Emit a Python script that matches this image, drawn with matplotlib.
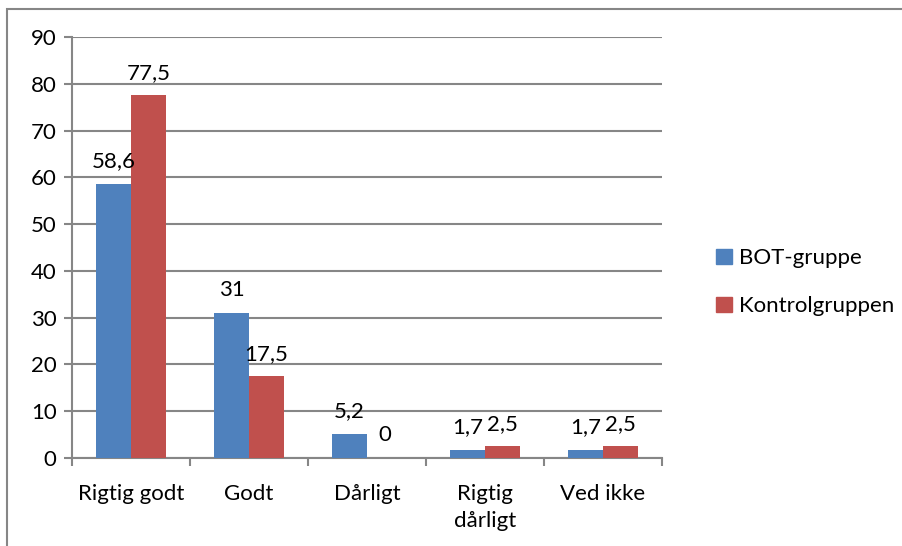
import matplotlib.pyplot as plt
import numpy as np
from matplotlib.patches import Rectangle, Patch

plt.rcParams['font.family'] = ['Lato', 'DejaVu Sans']

categories = ["Rigtig godt", "Godt", "Dårligt", "Rigtig\ndårligt", "Ved ikke"]
bot_gruppe = [58.6, 31, 5.2, 1.7, 1.7]
kontrolgruppen = [77.5, 17.5, 0, 2.5, 2.5]
bot_labels = ["58,6", "31", "5,2", "1,7", "1,7"]
kontrol_labels = ["77,5", "17,5", "0", "2,5", "2,5"]

blue = "#4F81BD"
red = "#C0504D"
grid = "#868686"
fs = 16

fig = plt.figure(figsize=(9.02, 5.46), dpi=100)
ax = fig.add_axes([0.0798, 0.1612, 0.6542, 0.771])

# outer chart frame
fig.patches.append(Rectangle((7 / 902, -0.1), 1.2, 1 - 9 / 546 + 0.1,
                             transform=fig.transFigure, fill=False,
                             edgecolor=grid, linewidth=1.5))

x = np.arange(len(categories))
w = 0.297
b1 = ax.bar(x - w / 2, bot_gruppe, w, color=blue, zorder=3)
b2 = ax.bar(x + w / 2, kontrolgruppen, w, color=red, zorder=3)

for rect, lab in zip(b1, bot_labels):
    ax.annotate(lab, (rect.get_x() + rect.get_width() / 2, rect.get_height()),
                xytext=(0, 9), textcoords="offset points", ha="center",
                va="bottom", fontsize=fs)
for rect, lab in zip(b2, kontrol_labels):
    ax.annotate(lab, (rect.get_x() + rect.get_width() / 2, rect.get_height()),
                xytext=(0, 9), textcoords="offset points", ha="center",
                va="bottom", fontsize=fs)

ax.set_xlim(-0.5, len(categories) - 0.5)
ax.set_ylim(0, 90)
ax.set_yticks(range(0, 91, 10))
ax.yaxis.grid(True, color=grid, linewidth=1.5, zorder=0)
ax.tick_params(axis="y", labelsize=fs, length=6, width=1.5, color=grid, pad=5)

ax.set_xticks(x)
ax.set_xticklabels(categories, fontsize=fs, linespacing=1.4)
ax.tick_params(axis="x", length=0, pad=19)
ax.set_xticks(np.arange(-0.5, len(categories)), minor=True)
ax.tick_params(axis="x", which="minor", length=6, width=1.5, color=grid)

for s in ["top", "right"]:
    ax.spines[s].set_visible(False)
for s in ["left", "bottom"]:
    ax.spines[s].set_color(grid)
    ax.spines[s].set_linewidth(1.5)

handles = [Patch(color=blue, label="BOT-gruppe"),
           Patch(color=red, label="Kontrolgruppen")]
fig.legend(handles=handles, loc="center left", bbox_to_anchor=(0.772, 0.483),
           frameon=False, fontsize=fs, handlelength=0.7, handleheight=0.7,
           handletextpad=0.3, labelspacing=1.25)

fig.savefig("out.png", dpi=100)
